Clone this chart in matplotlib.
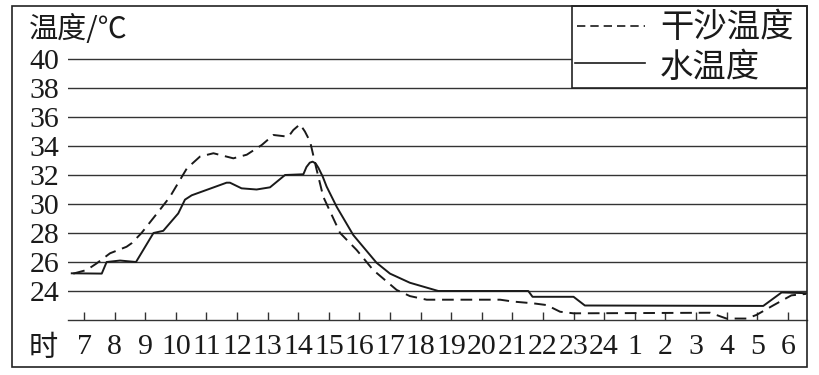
import matplotlib
matplotlib.use("Agg")
import matplotlib.pyplot as plt
from matplotlib.lines import Line2D
from matplotlib.patches import Rectangle

# hours on the x axis, 7时 through 6时 of the next morning
hour_labels = ["7", "8", "9", "10", "11", "12", "13", "14", "15", "16", "17", "18",
               "19", "20", "21", "22", "23", "24", "1", "2", "3", "4", "5", "6"]
y_ticks = [24, 26, 28, 30, 32, 34, 36, 38, 40]

# x given as hours after 7时
water_x = [-0.40, 0.58, 0.74, 1.18, 1.70, 2.27, 2.59, 3.08, 3.30, 3.52, 4.66, 4.77,
           5.15, 5.64, 6.08, 6.57, 7.17, 7.27, 7.38, 7.47, 7.57, 7.66, 7.80, 7.93,
           8.26, 8.80, 9.56, 10.0, 10.65, 11.58, 14.52, 14.66, 16.0, 16.37, 22.2,
           22.8, 23.6]
water_t = [25.22, 25.2, 26.0, 26.1, 26.0, 28.0, 28.15, 29.35, 30.3, 30.6, 31.47, 31.47,
           31.08, 31.0, 31.15, 32.0, 32.05, 32.55, 32.85, 32.92, 32.8, 32.5, 31.9, 31.2,
           29.8, 27.86, 25.95, 25.2, 24.57, 24.0, 24.0, 23.6, 23.6, 23.0, 22.97,
           23.9, 23.85]

sand_x = [-0.35, 0.09, 0.41, 0.85, 1.39, 1.56, 1.88, 2.48, 2.81, 3.36, 3.79, 4.23,
          4.88, 5.32, 5.81, 6.19, 6.68, 6.84, 7.06, 7.22, 7.39, 7.58, 7.82, 8.37,
          8.91, 9.45, 10.22, 10.65, 11.2, 13.6, 14.03, 14.68, 15.12, 15.56, 16.0,
          20.46, 21.0, 21.66, 21.98, 22.52, 23.12, 23.6]
sand_t = [25.2, 25.45, 25.9, 26.6, 27.05, 27.3, 28.0, 29.6, 30.5, 32.45, 33.27, 33.5,
          33.15, 33.4, 34.07, 34.76, 34.64, 35.1, 35.5, 35.0, 34.3, 32.57, 30.5, 28.0,
          26.83, 25.45, 24.07, 23.65, 23.4, 23.4, 23.27, 23.15, 23.03, 22.57, 22.46,
          22.5, 22.1, 22.1, 22.35, 23.0, 23.7, 23.8]

W, H = 820, 375
INK = "#1a1a1a"
CJK = ["Noto Sans CJK SC", "DejaVu Sans"]
SERIF = "Liberation Serif"


def px(x, y):
    # pixel position (from top-left) -> figure fraction
    return x / W, 1 - y / H


fig = plt.figure(figsize=(W / 100, H / 100), dpi=100)
fig.patch.set_facecolor("white")

ax = fig.add_axes([68 / W, (H - 320) / H, (807 - 68) / W, (320 - 6) / H])
ax.set_xlim(-0.523, 23.63)
ax.set_ylim(22, 22 + 314 / 14.5)

for t in y_ticks:
    ax.axhline(t, color="#333333", lw=1.0, zorder=1)

ax.plot(sand_x, sand_t, color=INK, lw=1.4, linestyle=(0, (6, 3.5)), zorder=3)
ax.plot(water_x, water_t, color=INK, lw=1.4, zorder=3)

for s in ["left", "top", "right"]:
    ax.spines[s].set_visible(False)
ax.spines["bottom"].set_color("#333333")
ax.spines["bottom"].set_linewidth(1.0)

ax.set_xticks(range(len(hour_labels)))
ax.set_xticklabels(hour_labels, fontfamily=SERIF, fontsize=21.5, color=INK)
ax.tick_params(axis="x", direction="in", length=6, width=1.0, color="#333333", pad=10)
ax.set_yticks(y_ticks)
ax.set_yticklabels([str(t) for t in y_ticks], fontfamily=SERIF, fontsize=21.5, color=INK)
ax.tick_params(axis="y", length=0, pad=6)

# outer frame
fx, fy = px(12, 367)
fig.add_artist(Rectangle((fx, fy), (807 - 12) / W, (367 - 6) / H, transform=fig.transFigure,
                         fill=False, edgecolor="#222222", lw=1.2, zorder=6))

fig.text(*px(29, 30), "温度/℃", family=CJK, fontsize=21, color=INK, ha="left", va="center")
fig.text(*px(29, 348), "时", family=CJK, fontsize=21, color=INK, ha="left", va="center")

# legend box
lx, ly = px(572, 88)
fig.add_artist(Rectangle((lx, ly), (807 - 572) / W, (88 - 6) / H, transform=fig.transFigure,
                         facecolor="white", edgecolor="#222222", lw=1.2, zorder=5))
x0, y0 = px(577, 26)
x1, _ = px(645, 26)
fig.add_artist(Line2D([x0, x1], [y0, y0], transform=fig.transFigure, color=INK, lw=1.2,
                      linestyle=(0, (5, 3)), zorder=7))
x0, y1 = px(575, 63)
fig.add_artist(Line2D([x0, x1], [y1, y1], transform=fig.transFigure, color=INK, lw=1.2, zorder=7))
fig.text(*px(660, 28), "干沙温度", family=CJK, fontsize=24, color=INK, ha="left", va="center",
         zorder=8)
fig.text(*px(660, 67), "水温度", family=CJK, fontsize=24, color=INK, ha="left", va="center",
         zorder=8)

fig.savefig("out.png", dpi=100)
